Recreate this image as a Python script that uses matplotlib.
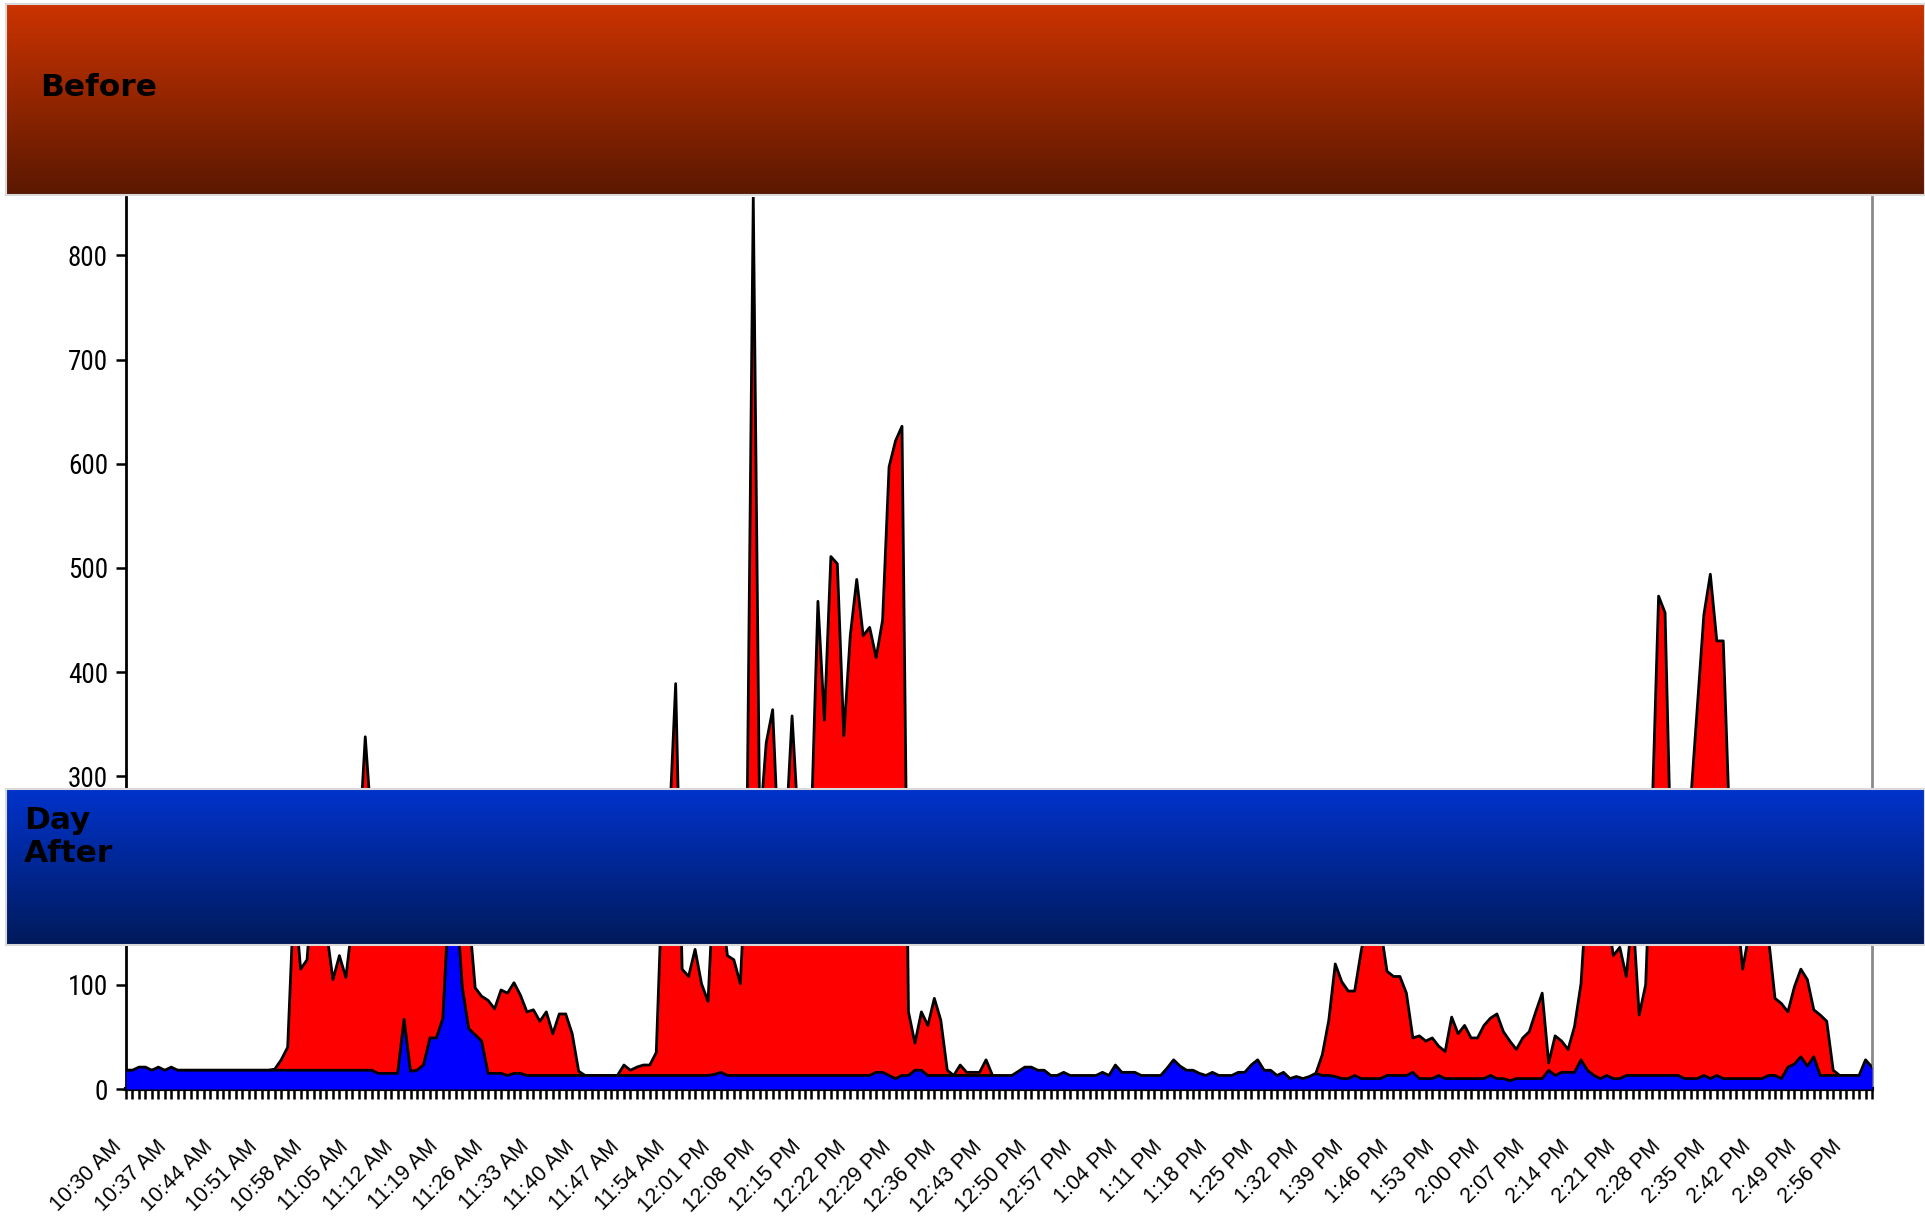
import numpy as np
import matplotlib
matplotlib.use("Agg")
import matplotlib.pyplot as plt
from matplotlib import font_manager as fm
from matplotlib.colors import to_rgb

# minute-by-minute values, 10:30 AM .. 3:00 PM
before = [
    18, 18, 18, 18, 18, 18, 18, 18, 18, 18,
    18, 18, 18, 18, 18, 18, 18, 18, 18, 18,
    18, 18, 18, 19, 28, 40, 190, 115, 124, 210,
    240, 152, 105, 128, 107, 160, 230, 338, 250, 230,
    215, 240, 265, 250, 225, 240, 270, 255, 235, 250,
    260, 230, 210, 170, 97, 89, 85, 77, 95, 92,
    102, 90, 74, 76, 65, 74, 53, 72, 72, 53,
    17, 13, 13, 13, 13, 13, 13, 23, 18, 21,
    23, 23, 35, 210, 250, 389, 115, 108, 134, 101,
    84, 210, 180, 128, 124, 101, 230, 856, 250, 332,
    364, 220, 240, 358, 250, 230, 260, 468, 354, 511,
    504, 339, 435, 489, 435, 443, 414, 450, 597, 622,
    636, 74, 44, 74, 61, 87, 66, 18, 13, 23,
    16, 16, 16, 28, 13, 10, 10, 10, 10, 10,
    10, 10, 10, 10, 10, 10, 10, 10, 10, 10,
    10, 10, 10, 10, 10, 10, 10, 10, 10, 10,
    10, 10, 10, 10, 10, 10, 10, 10, 10, 10,
    10, 10, 10, 10, 10, 10, 10, 10, 10, 10,
    10, 10, 10, 10, 15, 33, 66, 120, 103, 94,
    94, 132, 165, 175, 155, 113, 108, 108, 92, 49,
    51, 46, 49, 41, 36, 69, 53, 61, 49, 49,
    61, 68, 72, 55, 46, 38, 49, 55, 74, 92,
    25, 51, 46, 38, 60, 101, 200, 240, 210, 170,
    128, 136, 108, 170, 71, 100, 265, 473, 457, 200,
    210, 230, 280, 367, 455, 494, 430, 430, 250, 180,
    115, 150, 170, 160, 145, 87, 82, 74, 98, 115,
    105, 76, 71, 65, 18, 13, 13, 13, 13, 13,
    13,
]

day_after = [
    18, 18, 21, 21, 18, 21, 18, 21, 18, 18,
    18, 18, 18, 18, 18, 18, 18, 18, 18, 18,
    18, 18, 18, 18, 18, 18, 18, 18, 18, 18,
    18, 18, 18, 18, 18, 18, 18, 18, 18, 15,
    15, 15, 15, 67, 17, 18, 23, 49, 49, 68,
    190, 190, 98, 58, 52, 46, 15, 15, 15, 13,
    15, 15, 13, 13, 13, 13, 13, 13, 13, 13,
    13, 13, 13, 13, 13, 13, 13, 13, 13, 13,
    13, 13, 13, 13, 13, 13, 13, 13, 13, 13,
    13, 14, 16, 13, 13, 13, 13, 13, 13, 13,
    13, 13, 13, 13, 13, 13, 13, 13, 13, 13,
    13, 13, 13, 13, 13, 13, 16, 16, 13, 10,
    13, 13, 18, 18, 13, 13, 13, 13, 13, 13,
    13, 13, 13, 13, 13, 13, 13, 13, 17, 21,
    21, 18, 18, 13, 13, 16, 13, 13, 13, 13,
    13, 16, 13, 23, 16, 16, 16, 13, 13, 13,
    13, 20, 28, 22, 18, 18, 15, 13, 16, 13,
    13, 13, 16, 16, 23, 28, 18, 18, 13, 16,
    10, 12, 10, 12, 15, 13, 13, 12, 10, 10,
    13, 10, 10, 10, 10, 13, 13, 13, 13, 16,
    10, 10, 10, 13, 10, 10, 10, 10, 10, 10,
    10, 13, 10, 10, 8, 10, 10, 10, 10, 10,
    18, 13, 16, 16, 16, 28, 18, 13, 10, 13,
    10, 10, 13, 13, 13, 13, 13, 13, 13, 13,
    13, 10, 10, 10, 13, 10, 13, 10, 10, 10,
    10, 10, 10, 10, 13, 13, 10, 21, 24, 31,
    22, 31, 13, 13, 13, 13, 13, 13, 13, 28,
    21,
]

time_labels = [
    "10:30 AM", "10:37 AM", "10:44 AM", "10:51 AM", "10:58 AM", "11:05 AM",
    "11:12 AM", "11:19 AM", "11:26 AM", "11:33 AM", "11:40 AM", "11:47 AM",
    "11:54 AM", "12:01 PM", "12:08 PM", "12:15 PM", "12:22 PM", "12:29 PM",
    "12:36 PM", "12:43 PM", "12:50 PM", "12:57 PM", "1:04 PM", "1:11 PM",
    "1:18 PM", "1:25 PM", "1:32 PM", "1:39 PM", "1:46 PM", "1:53 PM",
    "2:00 PM", "2:07 PM", "2:14 PM", "2:21 PM", "2:28 PM", "2:35 PM",
    "2:42 PM", "2:49 PM", "2:56 PM",
]
label_step = 7
y_ticks = [0, 100, 200, 300, 400, 500, 600, 700, 800]


def narrow_font():
    # look for a condensed face; fall back to plain Liberation Sans
    for fam in ["Liberation Sans Narrow", "Roboto Condensed", "Open Sans Condensed",
                "Noto Sans Condensed"]:
        try:
            fm.findfont(fm.FontProperties(family=fam), fallback_to_default=False)
            return fm.FontProperties(family=fam)
        except Exception:
            pass
    for fam in ["Liberation Sans", "Noto Sans", "Roboto", "DejaVu Sans"]:
        fp = fm.FontProperties(family=fam, stretch="condensed")
        try:
            path = fm.findfont(fp, fallback_to_default=False)
        except Exception:
            continue
        if "ondensed" in path or "arrow" in path:
            return fp
    return fm.FontProperties(family="Liberation Sans")


yfont = narrow_font()
yfont.set_size(19.5)

W, H = 1925, 1217
fig = plt.figure(figsize=(W / 100, H / 100), dpi=100)

# main plot
ax = fig.add_axes([126 / W, 1 - 1089 / H, (1872 - 126) / W, (1089 - 197) / H])
x = np.arange(len(before))
ax.fill_between(x, 0, before, color="#FF0000", lw=0, zorder=1)
ax.plot(x, before, color="black", lw=2, zorder=2)
ax.fill_between(x, 0, day_after, color="#0000FF", lw=0, zorder=3)
ax.plot(x, day_after, color="black", lw=2, zorder=4)

ax.set_xlim(0, len(before) - 1)
ax.set_ylim(0, 856)

ax.spines["top"].set_visible(False)
ax.spines["right"].set_color("#8a8a8a")
ax.spines["right"].set_linewidth(2)
ax.spines["left"].set_linewidth(2)
ax.spines["bottom"].set_linewidth(3)

labels = [""] * len(x)
for i, t in enumerate(time_labels):
    labels[i * label_step] = t
ax.set_xticks(x)
ax.set_xticklabels(labels, rotation=45, ha="right", va="top",
                   fontsize=15.5, family="Liberation Sans")
ax.tick_params(axis="x", direction="out", length=7, width=1.8, pad=27)
ax.set_yticks(y_ticks)
ax.set_yticklabels([str(v) for v in y_ticks], fontproperties=yfont)
ax.tick_params(axis="y", direction="out", length=7, width=1.8, pad=6)


def banner(rect, top, bottom, text, tx, ty):
    b = fig.add_axes(rect, zorder=10)
    t = np.linspace(0, 1, 256)[:, None]
    c0 = np.array(to_rgb(top))
    c1 = np.array(to_rgb(bottom))
    grad = c0[None, None, :] * (1 - t[..., None]) + c1[None, None, :] * t[..., None]
    b.imshow(grad, aspect="auto", extent=[0, 1, 0, 1])
    b.set_xlim(0, 1)
    b.set_ylim(0, 1)
    b.set_xticks([])
    b.set_yticks([])
    for s in b.spines.values():
        s.set_color("#d9d9d9")
        s.set_linewidth(1.5)
    b.text(tx, ty, text, transform=b.transAxes, ha="left", va="center",
           fontsize=22.5, fontweight="bold", family="DejaVu Sans",
           color="black", linespacing=1.2)


banner([6 / W, 1 - 195 / H, 1919 / W, 191 / H], "#CC3300", "#5A1800",
       "Before", (40 - 6) / 1919, (195 - 87) / 191)
banner([6 / W, 1 - 945 / H, 1919 / W, 156 / H], "#0033CC", "#001A5A",
       "Day\nAfter", (24 - 6) / 1919, (945 - 837) / 156)

fig.savefig("out.png", dpi=100)
